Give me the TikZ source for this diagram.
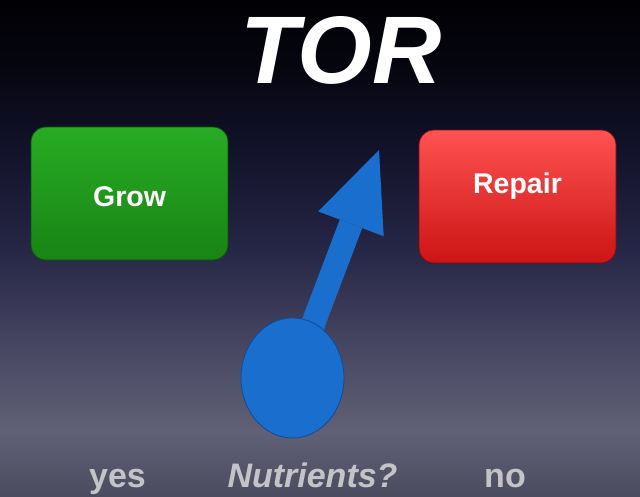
\documentclass[tikz,border=0pt]{standalone}
\usepackage{fontspec}
\setmainfont{Liberation Sans}
\usetikzlibrary{arrows.meta,shapes.geometric}
\definecolor{bgA}{RGB}{76,76,96}
\definecolor{bgB}{RGB}{96,96,118}
\definecolor{bgC}{RGB}{72,72,100}
\definecolor{bgD}{RGB}{38,38,70}
\definecolor{bgE}{RGB}{18,18,42}
\definecolor{bgF}{RGB}{5,5,14}
\definecolor{bgG}{RGB}{1,1,4}
\definecolor{growTop}{RGB}{40,172,36}
\definecolor{growBot}{RGB}{24,132,20}
\definecolor{growEdge}{RGB}{14,80,12}
\definecolor{repTop}{RGB}{255,82,82}
\definecolor{repBot}{RGB}{204,20,20}
\definecolor{repEdge}{RGB}{130,10,10}
\definecolor{bluefill}{RGB}{26,110,205}
\definecolor{blueedge}{RGB}{15,75,150}
\definecolor{labgray}{RGB}{196,196,200}
\pgfdeclareverticalshading{slidebg}{100bp}{color(0bp)=(bgA); color(25bp)=(bgA); color(31.5bp)=(bgB); color(39.7bp)=(bgC); color(49.8bp)=(bgD); color(59.9bp)=(bgE); color(69bp)=(bgF); color(75bp)=(bgG); color(100bp)=(bgG)}
\begin{document}
\begin{tikzpicture}[x=1pt,y=-1pt,
  box/.style={rounded corners=15pt, line width=0.8pt, minimum width=197pt, minimum height=133pt, inner sep=0pt},
  boxtext/.style={text=white, font=\bfseries\fontsize{28.5}{30}\selectfont, anchor=base, inner sep=0pt},
  bottomtext/.style={text=labgray, font=\bfseries\fontsize{34}{36}\selectfont, anchor=base, inner sep=0pt},
  arrowline/.style={bluefill, line width=24pt, -{Triangle[length=79pt,width=70pt,line width=0pt]}},
  ballstyle/.style={ellipse, minimum width=103pt, minimum height=120pt, inner sep=0pt, fill=bluefill, draw=blueedge, line width=0.8pt}]
\shade[shading=slidebg] (0,0) rectangle (640,496);
\useasboundingbox (0,0) rectangle (640,496);
\node[text=white, font=\bfseries\itshape\fontsize{96}{96}\selectfont, anchor=base, inner sep=0pt] (title) at (341,83) {TOR};
\node[box, draw=growEdge, top color=growTop, bottom color=growBot] (grow) at (129.5,193.5) {};
\node[boxtext] (growtext) at (129.5,206) {Grow};
\node[box, draw=repEdge, top color=repTop, bottom color=repBot] (repair) at (517.5,196.5) {};
\node[boxtext] (repairtext) at (517.5,193) {Repair};
\coordinate (ec) at (292.5,378);
\coordinate (tip) at (379,150);
\draw[arrowline] (ec) -- (tip);
\node[ballstyle] (ball) at (ec) {};
\node[bottomtext] (yes) at (117.5,487) {yes};
\node[bottomtext, font=\bfseries\itshape\fontsize{34}{36}\selectfont] (nutr) at (312.5,487) {Nutrients?};
\node[bottomtext] (no) at (505,487) {no};
\end{tikzpicture}
\end{document}
